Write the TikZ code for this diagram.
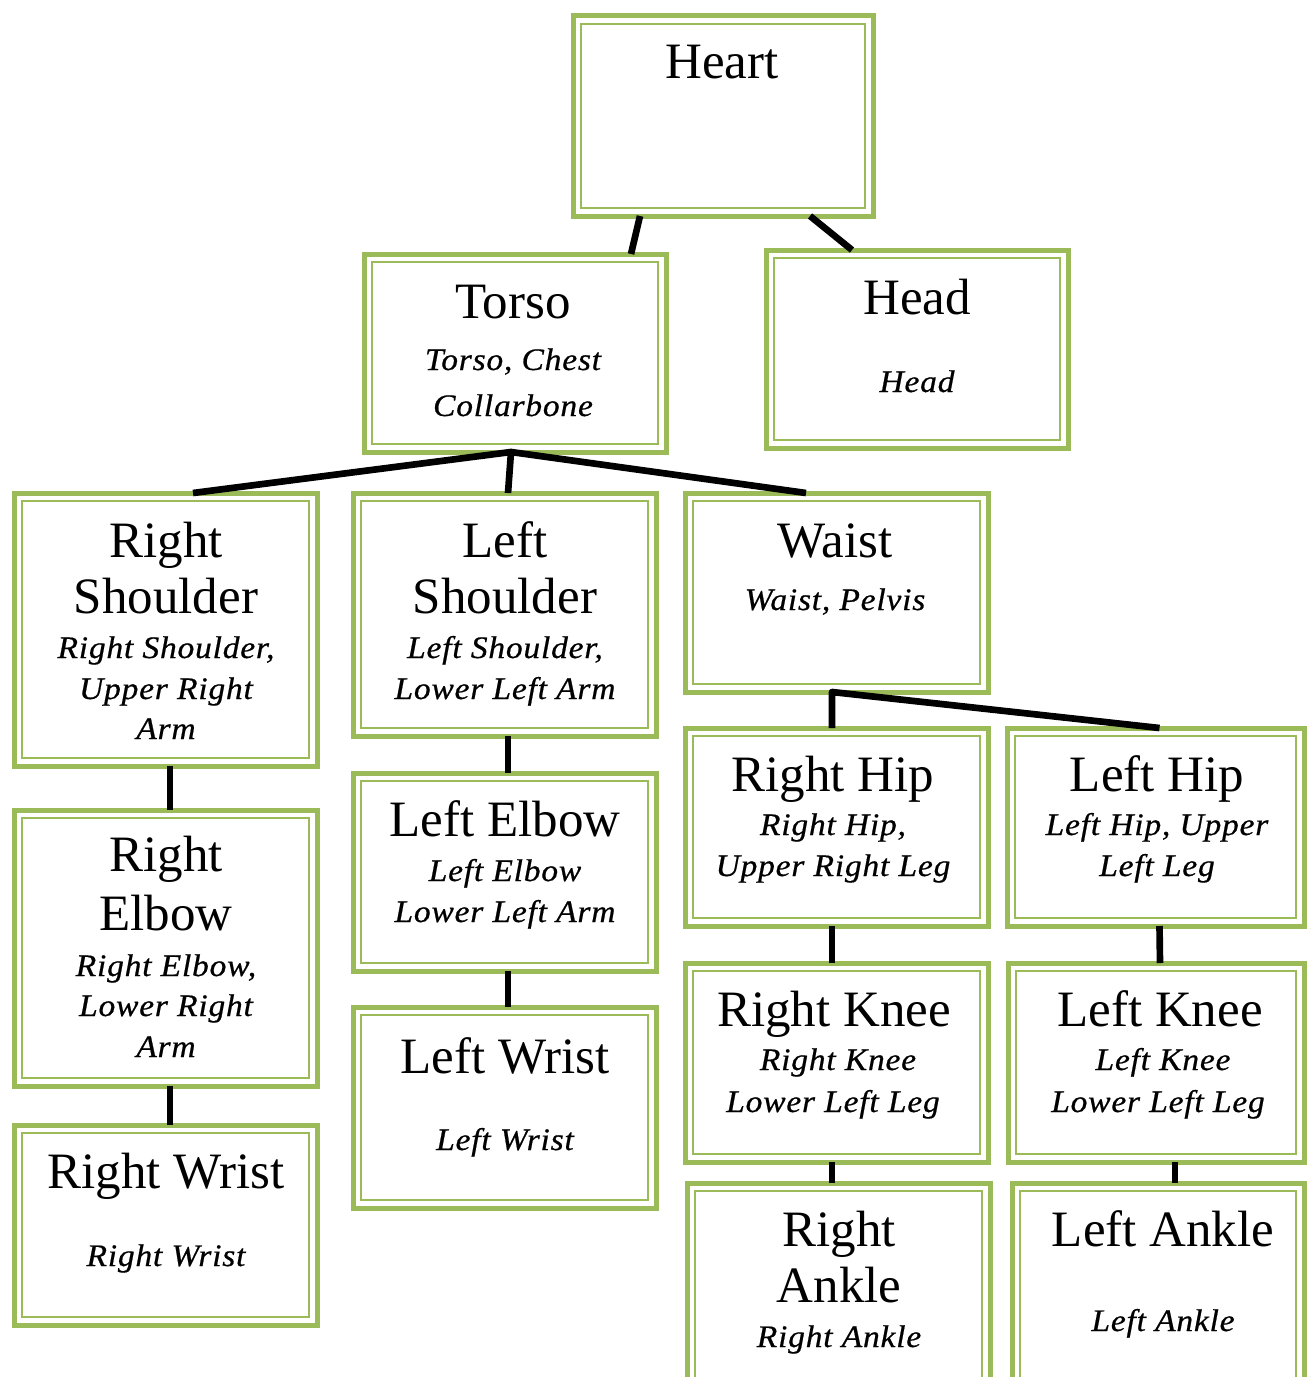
\documentclass[tikz,border=0pt]{standalone}
\usepackage{fontspec}
\setmainfont{Liberation Serif}
\newfontfamily\subfamily[FakeStretch=1.07,LetterSpace=2.5,FakeBold=0.6]{Liberation Serif}
\usetikzlibrary{calc}
\definecolor{gr}{HTML}{9BBB59}
\tikzset{
 outerbox/.style={draw=gr, line width=3.75pt, rectangle, inner sep=0pt, outer sep=0pt},
 innerbox/.style={draw=gr, line width=2.2pt},
 ttl/.style={anchor=base, inner sep=0pt, font=\fontsize{38.25pt}{42.75pt}\selectfont},
 sub/.style={anchor=base, inner sep=0pt, font=\subfamily\itshape\fontsize{23.5pt}{30pt}\selectfont},
 conn/.style={draw=black, line width=5pt},
}
\newcommand\gbox[5]{%
 \node[outerbox, minimum width={(#4-#2)*0.75pt}, minimum height={(#5-#3)*0.75pt}] (#1) at ({(#2+#4)/2},{(#3+#5)/2}) {};
 \draw[innerbox] ([shift={(8,8)}]#1.north west) rectangle ([shift={(-8,-8)}]#1.south east);}
\begin{document}
\begin{tikzpicture}[x=0.75pt,y=-0.75pt]
\useasboundingbox (0,0) rectangle (1308,1377);
\clip (0,0) rectangle (1308,1377);
\fill[white] (0,0) rectangle (1308,1377);
% boxes
\gbox{heart}{573}{16}{873}{216}
\gbox{torso}{364}{254}{666}{452}
\gbox{head}{766}{250}{1068}{448}
\gbox{rsh}{14}{493}{317}{766}
\gbox{lsh}{353}{493}{656}{736}
\gbox{waist}{685}{493}{988}{692}
\gbox{relb}{14}{810}{317}{1086}
\gbox{lelb}{353}{773}{656}{971}
\gbox{lwri}{353}{1007}{656}{1208}
\gbox{rwri}{14}{1125}{317}{1325}
\gbox{rhip}{685}{728}{988}{926}
\gbox{lhip}{1007}{728}{1304}{926}
\gbox{rkne}{685}{963}{988}{1162}
\gbox{lkne}{1008}{963}{1304}{1162}
\gbox{rank}{687}{1183}{990}{1400}
\gbox{lank}{1012}{1183}{1304}{1400}
% connectors
\draw[conn] ([xshift=-83*0.75pt]heart.south) -- ([xshift=116*0.75pt]torso.north);
\draw[conn] ([xshift=87*0.75pt]heart.south) -- ([xshift=-65*0.75pt]head.north);
\coordinate (tj) at ([xshift=-4*0.75pt]torso.south);
\draw[conn, line join=round] ([xshift=27.5*0.75pt]rsh.north) -- (tj) -- ([xshift=-30.5*0.75pt]waist.north);
\draw[conn] (tj) -- ([xshift=3.5*0.75pt]lsh.north);
\draw[conn] ([xshift=4.5*0.75pt]rsh.south) -- ([xshift=4.5*0.75pt]relb.north);
\draw[conn] ([xshift=4.5*0.75pt]relb.south) -- ([xshift=4.5*0.75pt]rwri.north);
\draw[conn] ([xshift=3.5*0.75pt]lsh.south) -- ([xshift=3.5*0.75pt]lelb.north);
\draw[conn] ([xshift=3.5*0.75pt]lelb.south) -- ([xshift=3.5*0.75pt]lwri.north);
\coordinate (wj) at ([xshift=-4.5*0.75pt]waist.south);
\draw[conn, line join=round] ([xshift=-4.5*0.75pt]rhip.north) -- (wj) -- ([xshift=4*0.75pt]lhip.north);
\draw[conn] ([xshift=-4.5*0.75pt]rhip.south) -- ([xshift=-4.5*0.75pt]rkne.north);
\draw[conn] ([xshift=4*0.75pt]lhip.south) -- ([xshift=4*0.75pt]lkne.north);
\draw[conn] ([xshift=-4.5*0.75pt]rkne.south) -- ([xshift=-6.5*0.75pt]rank.north);
\draw[conn] ([xshift=19*0.75pt]lkne.south) -- ([xshift=17*0.75pt]lank.north);
% texts
\node[ttl] (heart-t) at (722,79) {Heart};
\node[ttl] (torso-t) at (513,318) {Torso};
\node[sub] (torso-s1) at (513,370) {Torso, Chest};
\node[sub] (torso-s2) at (513,416) {Collarbone};
\node[ttl] (head-t) at (917,314) {Head};
\node[sub] (head-s) at (917,392) {Head};
\node[ttl] (rsh-t1) at (166,557) {Right};
\node[ttl] (rsh-t2) at (166,613) {Shoulder};
\node[sub] (rsh-s1) at (166,658) {Right Shoulder,};
\node[sub] (rsh-s2) at (166,699) {Upper Right};
\node[sub] (rsh-s3) at (166,739) {Arm};
\node[ttl] (lsh-t1) at (505,557) {Left};
\node[ttl] (lsh-t2) at (505,613) {Shoulder};
\node[sub] (lsh-s1) at (505,658) {Left Shoulder,};
\node[sub] (lsh-s2) at (505,699) {Lower Left Arm};
\node[ttl] (waist-t) at (835,557) {Waist};
\node[sub] (waist-s) at (835,610) {Waist, Pelvis};
\node[ttl] (relb-t1) at (166,871) {Right};
\node[ttl] (relb-t2) at (166,930) {Elbow};
\node[sub] (relb-s1) at (166,976) {Right Elbow,};
\node[sub] (relb-s2) at (166,1016) {Lower Right};
\node[sub] (relb-s3) at (166,1057) {Arm};
\node[ttl] (lelb-t) at (505,836) {Left Elbow};
\node[sub] (lelb-s1) at (505,881) {Left Elbow};
\node[sub] (lelb-s2) at (505,922) {Lower Left Arm};
\node[ttl] (lwri-t) at (505,1073) {Left Wrist};
\node[sub] (lwri-s) at (505,1150) {Left Wrist};
\node[ttl] (rwri-t) at (166,1188) {Right Wrist};
\node[sub] (rwri-s) at (166,1266) {Right Wrist};
\node[ttl] (rhip-t) at (833,791) {Right Hip};
\node[sub] (rhip-s1) at (833,835) {Right Hip,};
\node[sub] (rhip-s2) at (833,876) {Upper Right Leg};
\node[ttl] (lhip-t) at (1157,791) {Left Hip};
\node[sub] (lhip-s1) at (1157,835) {Left Hip, Upper};
\node[sub] (lhip-s2) at (1157,876) {Left Leg};
\node[ttl] (rkne-t) at (834,1026) {Right Knee};
\node[sub] (rkne-s1) at (838,1070) {Right Knee};
\node[sub] (rkne-s2) at (833,1112) {Lower Left Leg};
\node[ttl] (lkne-t) at (1160,1026) {Left Knee};
\node[sub] (lkne-s1) at (1163,1070) {Left Knee};
\node[sub] (lkne-s2) at (1158,1112) {Lower Left Leg};
\node[ttl] (rank-t1) at (839,1246) {Right};
\node[ttl] (rank-t2) at (839,1302) {Ankle};
\node[sub] (rank-s) at (839,1347) {Right Ankle};
\node[ttl] (lank-t) at (1163,1246) {Left Ankle};
\node[sub] (lank-s) at (1163,1331) {Left Ankle};
\end{tikzpicture}
\end{document}
